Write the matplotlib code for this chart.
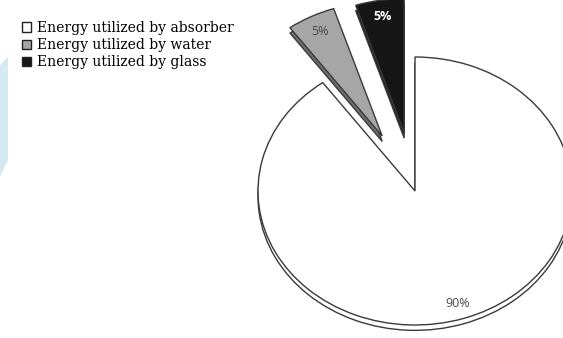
import matplotlib.pyplot as plt
from matplotlib.patches import Polygon

# Data
labels = ["Energy utilized by absorber", "Energy utilized by water", "Energy utilized by glass"]
shares = [90, 5, 5]
colors = ["#ffffff", "#a6a6a6", "#161616"]
side_colors = ["#ffffff", "#6e6e6e", "#161616"]
explode = [0, 0.46, 0.44]

W, H = 563, 338
cx, cy = 415, 191      # pie centre in pixels
sx, sy = 157, 134      # ellipse half axes in pixels

fig = plt.figure(figsize=(W / 100, H / 100), dpi=100)
ax = fig.add_axes([0, 0, 1, 1])

depth = 0.04
# side / bottom of the pie (a shifted copy)
ax.pie(shares, colors=side_colors, explode=explode, startangle=90, counterclock=False,
       center=(0, -depth), wedgeprops=dict(edgecolor="#3a3a3a", linewidth=1.0))
wedges, texts, autotexts = ax.pie(
    shares, colors=colors, explode=explode, startangle=90, counterclock=False,
    autopct="%.0f%%", pctdistance=0.88,
    wedgeprops=dict(edgecolor="#3a3a3a", linewidth=1.0),
    textprops=dict(fontsize=9, family="Open Sans"))
for t, c in zip(autotexts, ["#4a4a4a", "#4a4a4a", "#ffffff"]):
    t.set_color(c)
autotexts[2].set_fontweight("bold")

ax.set_aspect("auto")
ax.set_xlim((0 - cx) / sx, (W - cx) / sx)
ax.set_ylim((cy - H) / sy, cy / sy)
ax.axis("off")

# legend
handles = [plt.Rectangle((0, 0), 1, 1, facecolor=c, edgecolor="#222222", linewidth=1.0) for c in colors]
fig.legend(handles, labels, loc="upper left", bbox_to_anchor=(22 / W, 1 - 21 / H),
           frameon=False, prop=dict(family="DejaVu Serif", size=10),
           handlelength=0.65, handleheight=0.65, handletextpad=0.45,
           labelspacing=0.22, borderpad=0, borderaxespad=0)

# light blue strip on the left edge
strip = [(0, 65), (8, 57), (8, 160), (0, 177)]
fig.patches.append(Polygon([(x / W, 1 - y / H) for x, y in strip], closed=True,
                           facecolor="#d6e8f1", edgecolor="none", transform=fig.transFigure))

fig.savefig("out.png", dpi=100)
